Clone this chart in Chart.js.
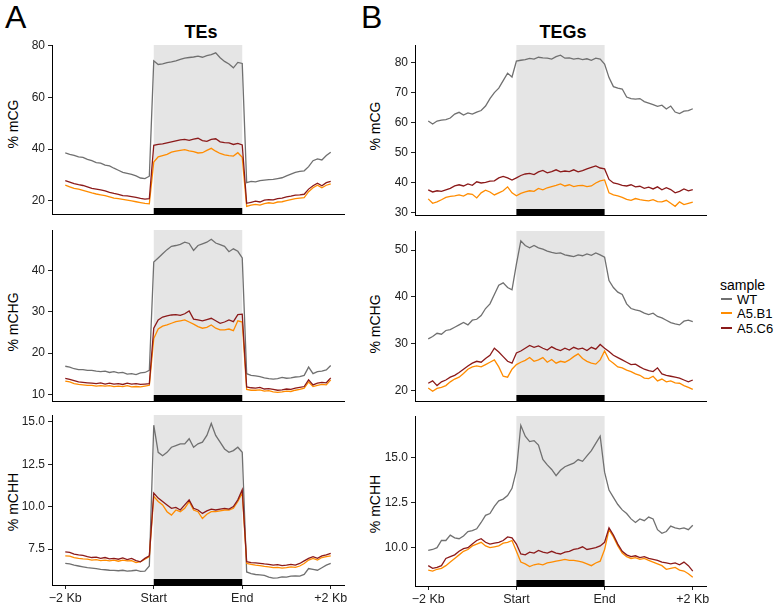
<!DOCTYPE html>
<html><head><meta charset="utf-8">
<script src="https://cdn.jsdelivr.net/npm/chart.js@4.4.1/dist/chart.umd.min.js"></script>
<style>
body{margin:0;background:#fff;width:779px;height:608px;position:relative;overflow:hidden;font-family:"Liberation Sans",Arial,sans-serif;}
canvas{position:absolute;}
.t{position:absolute;white-space:nowrap;color:#000;line-height:1;}
.rot{position:absolute;white-space:nowrap;color:#000;font-size:14px;line-height:1;transform:translate(-50%,-50%) rotate(-90deg);}
.lg{position:absolute;height:2px;width:11px;}
</style></head><body>
<div class="t" style="left:5px;top:1px;font-size:32px;">A</div>
<div class="t" style="left:361px;top:1px;font-size:32px;">B</div>
<div class="t" style="left:201px;top:23px;font-size:18px;font-weight:bold;transform:translateX(-50%);">TEs</div>
<div class="t" style="left:563px;top:23px;font-size:18px;font-weight:bold;transform:translateX(-50%);">TEGs</div>
<div class="rot" style="left:12.5px;top:124px;">% mCG</div>
<div class="rot" style="left:12.5px;top:322px;">% mCHG</div>
<div class="rot" style="left:12.5px;top:502px;">% mCHH</div>
<div class="rot" style="left:374.5px;top:126px;">% mCG</div>
<div class="rot" style="left:374.5px;top:324px;">% mCHG</div>
<div class="rot" style="left:374.5px;top:504px;">% mCHH</div>
<canvas id="cA1" width="350" height="178" style="left:0px;top:40px"></canvas>
<canvas id="cA2" width="350" height="180" style="left:0px;top:225px"></canvas>
<canvas id="cA3" width="350" height="198" style="left:0px;top:410px"></canvas>
<canvas id="cB1" width="350" height="179" style="left:362px;top:40px"></canvas>
<canvas id="cB2" width="350" height="179" style="left:362px;top:226px"></canvas>
<canvas id="cB3" width="350" height="197" style="left:362px;top:411px"></canvas>
<div id="legend"></div>
<script>
// ---- data ----
const samples = ['WT', 'A5.B1', 'A5.C6'];
const sampleColors = ['#707070', '#ff8c00', '#8b1a1a'];
const xTickVals = [0, 20, 40, 60];
const xTickLabels = ['\u22122 Kb', 'Start', 'End', '+2 Kb'];
const regionStart = 20, regionEnd = 40;

const tesCG_WT = [38.5,38.0,37.6,37.0,36.8,36.0,35.5,34.8,34.6,33.8,33.5,32.6,31.8,31.0,30.6,30.2,29.6,28.8,28.6,29.5, 74.2,72.8,73.0,73.5,73.8,74.2,74.8,75.3,75.5,75.7,76.0,75.6,76.2,76.6,77.3,75.4,74.0,73.0,71.5,73.6,73.2, 27.0,27.5,27.3,27.8,28.0,28.2,28.3,28.6,28.9,29.6,30.3,31.0,31.4,31.6,33.2,35.5,36.2,35.8,37.5,38.8];
const tesCG_B1 = [26.0,25.4,24.8,24.5,24.0,23.5,23.0,22.6,22.3,22.0,21.5,21.0,20.8,20.5,20.2,19.9,19.6,19.3,19.0,18.8, 35.0,37.0,37.5,38.0,38.8,39.2,39.5,39.8,39.3,39.0,38.5,38.6,39.5,40.3,39.2,38.3,37.8,37.5,37.3,38.6,36.8, 17.8,18.3,18.6,18.3,18.9,19.2,19.0,19.5,19.6,20.0,20.4,20.8,21.0,21.2,23.5,25.0,26.0,25.0,26.0,26.5];
const tesCG_C6 = [27.8,27.2,26.6,26.2,25.9,25.4,24.8,24.5,24.2,23.8,23.2,22.8,22.5,22.0,21.9,21.6,21.3,20.9,20.6,20.8, 41.5,41.8,42.0,42.4,42.8,43.2,43.6,43.8,43.4,43.9,44.2,43.3,43.0,43.8,44.0,42.8,42.5,42.4,41.8,42.2,41.6, 19.0,19.4,19.8,19.5,20.2,20.4,20.3,20.8,21.0,21.5,21.8,22.2,22.3,22.5,24.5,25.8,26.8,25.8,27.0,27.5];

const tesCHG_WT = [16.8,16.6,16.2,16.0,16.0,15.8,15.8,15.6,15.5,15.6,15.3,15.5,15.2,15.3,14.9,15.0,14.8,15.2,15.3,15.8, 42.0,43.0,44.0,45.0,45.8,46.0,46.3,46.8,46.5,44.8,46.0,46.4,46.8,47.5,46.6,46.2,45.8,44.5,45.2,44.6,43.0, 15.0,14.6,14.5,14.3,14.0,13.8,13.7,13.8,14.1,13.9,14.0,14.2,14.3,14.6,16.6,15.0,15.5,15.6,15.9,17.0];
const tesCHG_B1 = [13.2,13.0,12.6,12.4,12.3,12.2,12.2,12.0,12.1,12.0,12.1,11.9,12.0,11.9,12.1,11.8,11.9,11.8,12.0,12.2, 23.5,25.8,26.5,26.8,27.2,27.6,27.8,28.0,27.5,27.0,26.4,26.0,26.2,26.8,26.0,25.6,25.6,25.8,25.4,27.8,27.5, 11.2,11.0,11.0,11.1,10.8,10.9,10.6,10.5,10.6,10.8,10.7,11.0,11.2,11.5,13.0,11.9,12.2,12.4,12.3,13.5];
const tesCHG_C6 = [13.9,13.6,13.3,13.0,12.9,12.8,12.7,12.6,12.8,12.5,12.7,12.5,12.6,12.4,12.7,12.5,12.6,12.4,12.5,12.6, 26.0,28.0,28.7,29.0,29.2,29.3,29.1,29.5,30.2,28.2,28.0,27.8,28.1,28.4,27.8,27.2,27.5,28.0,27.6,29.3,29.4, 11.8,11.6,11.5,11.7,11.3,11.4,11.2,11.0,11.1,11.3,11.2,11.5,11.7,11.9,13.5,12.3,12.7,12.9,12.8,14.0];

const tesCHH_WT = [6.65,6.62,6.55,6.50,6.45,6.40,6.38,6.35,6.30,6.28,6.25,6.24,6.22,6.25,6.20,6.22,6.25,6.18,6.20,6.50, 14.8,13.2,13.0,13.2,13.5,13.6,13.7,13.7,14.0,13.5,13.7,13.8,14.2,14.9,14.2,13.8,13.4,13.2,13.3,13.5,13.2, 6.15,6.05,6.00,5.98,5.95,5.85,5.78,5.80,5.86,5.85,5.90,5.92,5.90,6.00,6.35,6.30,6.25,6.40,6.55,6.65];
const tesCHH_B1 = [7.10,7.08,7.00,6.95,6.92,6.90,6.85,6.88,6.82,6.85,6.80,6.85,6.78,6.85,6.80,6.82,6.70,6.75,6.90,7.05, 10.6,10.3,10.1,9.7,9.5,9.8,9.7,9.9,10.3,9.8,9.7,9.3,9.55,9.7,9.7,9.75,9.8,9.8,9.9,10.3,10.8, 6.65,6.60,6.55,6.52,6.48,6.45,6.40,6.42,6.38,6.40,6.45,6.42,6.50,6.65,6.85,6.95,6.85,7.00,7.05,7.10];
const tesCHH_C6 = [7.33,7.30,7.20,7.15,7.12,7.05,7.00,7.02,6.95,7.00,6.92,6.95,6.90,6.98,6.88,6.95,6.82,6.75,6.95,7.10, 10.8,10.5,10.3,10.1,9.9,9.95,9.8,10.1,10.4,9.9,9.8,9.6,9.75,9.85,9.8,9.85,9.9,9.85,10.0,10.4,11.0, 6.75,6.70,6.68,6.65,6.62,6.60,6.55,6.58,6.52,6.55,6.60,6.55,6.65,6.80,6.95,7.05,6.95,7.10,7.15,7.25];

const tegCG_WT = [60.5,59.5,60.5,60.8,61.0,61.5,62.8,63.4,62.5,63.2,62.8,63.5,64.0,65.5,68.0,70.0,71.5,74.0,76.5,75.2, 80.5,80.8,81.0,81.4,81.2,81.8,81.6,81.5,81.2,82.0,82.5,81.5,81.6,81.2,81.4,81.0,81.3,80.8,81.5,81.2,79.5, 75.0,72.0,71.5,71.2,68.5,68.0,67.8,68.0,67.0,66.5,66.0,65.4,65.8,64.5,65.5,63.5,63.0,63.8,64.0,64.6];
const tegCG_B1 = [34.5,33.0,33.5,34.2,35.0,35.3,35.5,35.8,35.4,36.2,36.0,34.8,36.5,37.4,36.8,35.8,36.5,37.2,38.5,36.5, 35.5,36.3,36.8,37.2,37.0,38.0,37.5,38.2,38.6,39.0,39.5,38.8,39.2,38.6,38.9,39.0,38.6,38.8,39.8,40.5,40.8, 36.5,35.8,35.5,35.0,34.3,34.0,34.6,34.2,34.0,33.8,34.2,33.6,33.5,34.0,33.0,32.0,33.5,32.6,33.0,33.4];
const tegCG_C6 = [37.5,36.8,37.2,37.0,37.5,38.0,38.8,39.2,38.8,39.5,39.0,40.2,39.8,40.0,40.4,40.5,41.5,42.0,41.5,40.8, 41.5,42.3,42.8,43.0,42.6,43.5,44.0,43.2,43.6,44.2,43.5,43.8,43.6,44.2,43.5,43.9,44.5,45.0,45.5,44.8,44.5, 41.0,39.8,39.5,39.0,38.8,39.2,38.5,38.7,38.0,38.4,37.8,38.5,37.5,38.2,37.6,36.5,37.0,37.8,37.2,37.6];

const tegCHG_WT = [31.0,31.5,32.2,32.0,32.8,33.0,33.5,34.0,34.5,34.0,35.0,35.2,36.0,37.5,38.5,40.5,42.5,43.0,42.0,41.5, 47.0,52.0,51.0,50.5,51.0,50.5,50.2,49.8,49.5,49.3,49.4,49.0,48.8,48.6,49.0,48.8,49.2,48.9,49.4,49.0,48.5, 43.5,42.0,41.0,40.5,38.5,37.5,37.2,37.0,36.5,36.2,36.5,35.8,35.5,35.0,34.5,34.2,34.0,34.8,35.0,34.7];
const tegCHG_B1 = [20.5,19.8,20.4,20.6,21.0,21.8,22.4,22.8,23.6,24.5,25.0,25.2,25.0,25.5,26.0,26.5,25.0,23.0,22.8,24.5, 25.5,26.0,26.4,27.0,26.2,26.5,27.0,26.0,26.6,25.8,26.2,26.0,26.5,27.2,27.8,26.8,26.2,25.8,25.6,26.5,28.4, 26.5,25.8,25.0,24.8,24.3,24.0,23.5,23.2,22.6,22.5,23.0,22.0,22.4,21.8,22.0,21.6,21.5,21.0,20.6,20.2];
const tegCHG_C6 = [21.5,22.0,21.0,21.8,22.2,22.8,23.2,23.8,24.5,25.2,25.8,26.2,26.0,26.8,27.5,29.0,28.2,27.2,26.2,25.8, 28.0,28.4,29.0,29.6,29.2,29.5,29.0,28.6,29.3,28.8,28.5,29.0,28.6,29.2,28.8,29.0,28.5,29.2,28.8,29.8,29.0, 28.3,27.5,27.0,26.5,26.0,25.5,25.6,25.0,24.5,24.2,24.0,24.8,23.5,23.2,23.0,22.8,22.6,22.2,21.8,22.2];

const tegCHH_WT = [9.85,9.90,10.00,10.40,10.40,10.70,10.55,10.50,10.65,10.90,10.95,11.05,11.40,11.80,11.90,12.30,12.60,12.70,12.90,13.30, 14.30,16.80,16.20,15.90,15.95,15.70,14.90,14.60,14.35,14.00,14.30,14.50,14.60,14.70,14.90,14.80,15.10,15.40,15.80,16.20,14.20, 13.20,12.80,12.40,12.10,11.90,11.60,11.40,11.60,11.50,11.70,11.60,11.00,10.80,10.90,11.20,11.10,11.05,11.10,11.00,11.25];
const tegCHH_B1 = [8.75,8.70,8.80,8.85,9.00,9.20,9.40,9.60,9.80,9.90,10.10,10.20,10.30,10.10,10.00,10.05,10.10,10.25,10.30,10.40, 9.80,9.20,9.10,8.95,9.05,9.10,9.05,9.15,9.20,9.25,9.30,9.35,9.30,9.30,9.25,9.20,9.10,9.00,9.15,9.25,9.90, 11.00,10.60,10.10,9.70,9.50,9.40,9.45,9.35,9.40,9.30,9.20,9.10,9.00,8.80,8.85,8.90,8.75,8.70,8.55,8.35];
const tegCHH_C6 = [9.00,8.85,8.90,9.00,9.40,9.50,9.60,9.80,9.95,10.00,10.20,10.40,10.50,10.30,10.20,10.25,10.30,10.40,10.60,10.55, 10.20,9.65,9.60,9.75,9.70,9.85,9.75,9.70,9.80,9.70,9.65,9.75,9.80,9.90,9.95,10.05,9.90,9.95,10.00,10.10,10.30, 11.10,10.70,10.20,9.80,9.60,9.50,9.55,9.45,9.50,9.40,9.35,9.30,9.20,9.15,9.10,9.15,9.05,9.20,9.00,8.70];

const yTicksCG_TE = [20, 40, 60, 80], yLabelsCG_TE = ['20','40','60','80'];
const yTicksCHG_TE = [10, 20, 30, 40], yLabelsCHG_TE = ['10','20','30','40'];
const yTicksCHH_TE = [7.5, 10, 12.5, 15], yLabelsCHH_TE = ['7.5','10.0','12.5','15.0'];
const yTicksCG_TEG = [30, 40, 50, 60, 70, 80], yLabelsCG_TEG = ['30','40','50','60','70','80'];
const yTicksCHG_TEG = [20, 30, 40, 50], yLabelsCHG_TEG = ['20','30','40','50'];
const yTicksCHH_TEG = [10, 12.5, 15], yLabelsCHH_TEG = ['10.0','12.5','15.0'];

// ---- drawing ----
const bins = tesCG_WT.map((_, i) => i);

const regionPlugin = {
  id: 'region',
  beforeDatasetsDraw(chart) {
    const {ctx, chartArea: a, scales: {x}} = chart;
    const x0 = x.getPixelForValue(regionStart), x1 = x.getPixelForValue(regionEnd);
    ctx.save();
    ctx.fillStyle = '#e5e5e5';
    ctx.fillRect(x0, a.top, x1 - x0, a.bottom - a.top);
    ctx.restore();
  },
  afterDatasetsDraw(chart) {
    const {ctx, chartArea: a, scales: {x}} = chart;
    const x0 = x.getPixelForValue(regionStart), x1 = x.getPixelForValue(regionEnd);
    ctx.save();
    ctx.fillStyle = '#000';
    ctx.fillRect(x0, a.bottom - 6, x1 - x0, 6);
    ctx.restore();
  }
};

function panel(id, series, yMin, yMax, yTicks, yLabels, yw, xh, bottom) {
  new Chart(document.getElementById(id), {
    type: 'line',
    data: {
      labels: bins,
      datasets: series.map((s, k) => ({
        label: samples[k], data: s, borderColor: sampleColors[k],
        borderWidth: 1.3, pointRadius: 0, fill: false, tension: 0, order: 2 - k
      }))
    },
    options: {
      responsive: false, animation: false, events: [],
      layout: {padding: {top: 5, right: 6, bottom: 0, left: 0}},
      plugins: {legend: {display: false}, tooltip: {enabled: false}},
      scales: {
        x: {
          type: 'linear', min: -3, max: 63,
          afterBuildTicks: s => { s.ticks = xTickVals.map(v => ({value: v})); },
          afterFit: s => { s.height = xh; s.paddingLeft = 0; s.paddingRight = 0; },
          ticks: {display: bottom, autoSkip: false, maxRotation: 0, minRotation: 0, padding: 2,
                  color: '#222', font: {family: 'Liberation Sans', size: 12.5},
                  callback: (v, i) => xTickLabels[i]},
          grid: {display: bottom, drawOnChartArea: false, drawTicks: true, tickLength: 4, color: '#222'},
          border: {display: true, color: '#000', width: 1}
        },
        y: {
          min: yMin, max: yMax,
          afterBuildTicks: s => { s.ticks = yTicks.map(v => ({value: v})); },
          afterFit: s => { s.width = yw; s.paddingTop = 0; s.paddingBottom = 0; },
          ticks: {color: '#222', padding: 3, font: {family: 'Liberation Sans', size: 12},
                  callback: (v, i) => yLabels[i]},
          grid: {drawOnChartArea: false, drawTicks: true, tickLength: 4, color: '#222'},
          border: {display: true, color: '#000', width: 1}
        }
      }
    },
    plugins: [regionPlugin]
  });
}

panel('cA1', [tesCG_WT, tesCG_B1, tesCG_C6], 14.85, 80.35, yTicksCG_TE, yLabelsCG_TE, 52, 4, false);
panel('cA2', [tesCHG_WT, tesCHG_B1, tesCHG_C6], 8.4, 49.75, yTicksCHG_TE, yLabelsCHG_TE, 52, 4, false);
panel('cA3', [tesCHH_WT, tesCHH_B1, tesCHH_C6], 5.38, 15.4, yTicksCHH_TE, yLabelsCHH_TE, 52, 23, true);
panel('cB1', [tegCG_WT, tegCG_B1, tegCG_C6], 29.1, 85.9, yTicksCG_TEG, yLabelsCG_TEG, 53, 4, false);
panel('cB2', [tegCHG_WT, tegCHG_B1, tegCHG_C6], 17.7, 54.1, yTicksCHG_TEG, yLabelsCHG_TEG, 53, 4, false);
panel('cB3', [tegCHH_WT, tegCHH_B1, tegCHH_C6], 7.87, 17.32, yTicksCHH_TEG, yLabelsCHH_TEG, 53, 22, true);

// legend
const lg = document.getElementById('legend');
let html = '<div class="t" style="left:720px;top:278px;font-size:14px;">sample</div>';
const rowsY = [299, 313, 328];
samples.forEach((s, k) => {
  html += '<div class="lg" style="left:721px;top:' + (rowsY[k] - 1) + 'px;background:' + sampleColors[k] + '"></div>';
  html += '<div class="t" style="left:737px;top:' + (rowsY[k] - 6) + 'px;font-size:13px;">' + s + '</div>';
});
lg.innerHTML = html;
</script>
</body></html>
